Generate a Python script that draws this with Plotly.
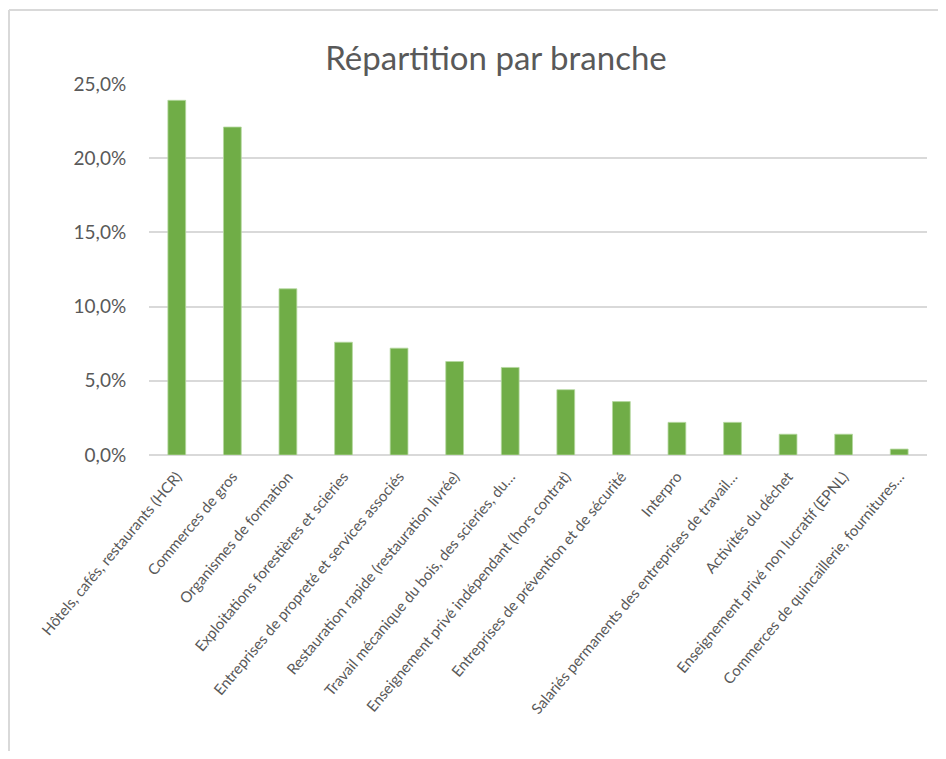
import plotly.graph_objects as go

categories = [
    "Hôtels, cafés, restaurants (HCR)",
    "Commerces de gros",
    "Organismes de formation",
    "Exploitations forestières et scieries",
    "Entreprises de propreté et services associés",
    "Restauration rapide (restauration livrée)",
    "Travail mécanique du bois, des scieries, du…",
    "Enseignement privé indépendant (hors contrat)",
    "Entreprises de prévention et de sécurité",
    "Interpro",
    "Salariés permanents des entreprises de travail…",
    "Activités du déchet",
    "Enseignement privé non lucratif (EPNL)",
    "Commerces de quincaillerie, fournitures…",
]
values = [0.239, 0.221, 0.112, 0.076, 0.072, 0.063, 0.059, 0.044, 0.036, 0.022, 0.022, 0.014, 0.014, 0.004]
y_ticks = [0, 0.05, 0.10, 0.15, 0.20, 0.25]
y_tick_labels = ["0,0%", "5,0%", "10,0%", "15,0%", "20,0%", "25,0%"]

# page has an 8px body margin; figure coords = page coords - 8
# figure sized so that no scrollbars appear
W, H = 930, 743
L, R, T, B = 141, 11, 76, 296
pw, ph = W - L - R, H - T - B

fig = go.Figure(go.Bar(
    x=categories, y=values,
    marker=dict(color="#70ad47", line=dict(color="#b5d8a0", width=0.8)),
))

def px_x(p):
    return (p - L) / pw

def px_y(p):
    return (H - B - p) / ph

FONT = "Lato, Open Sans, sans-serif"
BORDER = dict(color="#d9d9d9", width=2)

fig.update_layout(
    width=W, height=H,
    margin=dict(l=L, r=R, t=T, b=B),
    paper_bgcolor="white", plot_bgcolor="white",
    bargap=0.68,
    showlegend=False,
    font=dict(family=FONT, color="#595959"),
    title=dict(text="Répartition par branche", x=(496 - 8) / W, xanchor="center",
               y=1 - 50 / H, yanchor="middle", yref="container",
               font=dict(size=33, color="#595959", family=FONT)),
    xaxis=dict(tickangle=-50, tickfont=dict(size=15, color="#595959"),
               showgrid=False, showline=False, ticks="outside", ticklen=6,
               tickcolor="rgba(0,0,0,0)"),
    yaxis=dict(range=[0, 0.25], tickvals=y_ticks, ticktext=y_tick_labels,
               tickfont=dict(size=19, color="#595959"),
               showgrid=True, gridcolor="#d9d9d9", gridwidth=2,
               zeroline=True, zerolinecolor="#d9d9d9", zerolinewidth=2,
               ticks="outside", ticklen=18, tickcolor="rgba(0,0,0,0)"),
    shapes=[
        dict(type="line", xref="paper", yref="paper",
             x0=px_x(1), x1=px_x(W + 20), y0=px_y(2), y1=px_y(2),
             line=BORDER, layer="below"),
        dict(type="line", xref="paper", yref="paper",
             x0=px_x(1), x1=px_x(1), y0=px_y(2), y1=px_y(H + 20),
             line=BORDER, layer="below"),
    ],
)

fig.write_html("out.html")
